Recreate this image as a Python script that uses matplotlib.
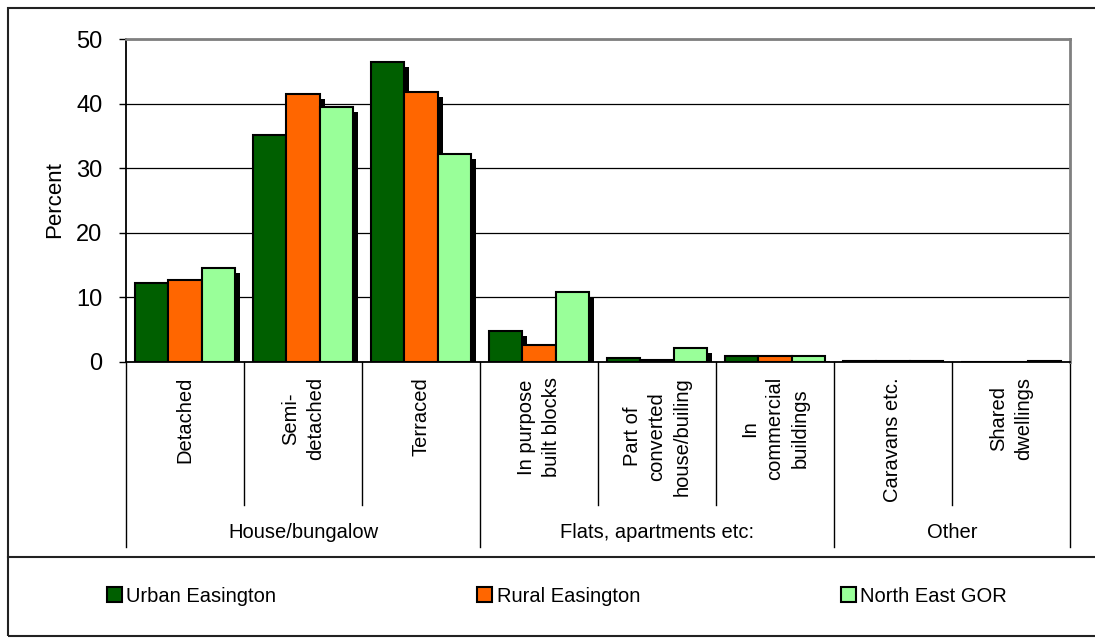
import matplotlib
matplotlib.use("Agg")
import matplotlib.pyplot as plt
import matplotlib.transforms as mtransforms
from matplotlib.lines import Line2D
from matplotlib.patches import Rectangle
import numpy as np

plt.rcParams["font.family"] = ["Liberation Sans", "DejaVu Sans"]

# -----------------------------------------------------------------------
# Data (percent of households by dwelling type)
# -----------------------------------------------------------------------
categories = ["Detached", "Semi-\ndetached", "Terraced", "In purpose\nbuilt blocks",
              "Part of\nconverted\nhouse/builing", "In\ncommercial\nbuildings",
              "Caravans etc.", "Shared\ndwellings"]
groups = ["House/bungalow", "Flats, apartments etc:", "Other"]
group_sizes = [3, 3, 2]

series_names = ["Urban Easington", "Rural Easington", "North East GOR"]
urban = [12.2, 35.2, 46.4, 4.8, 0.6, 0.9, 0.1, 0.0]
rural = [12.7, 41.5, 41.8, 2.6, 0.3, 0.9, 0.15, 0.0]
north_east = [14.5, 39.4, 32.2, 10.9, 2.1, 0.9, 0.1, 0.1]

COLOURS = ["#005f00", "#ff6600", "#99ff99"]

W, H = 1095, 640


def fy(py):
    # pixel row -> figure fraction
    return 1 - py / H


fig = plt.figure(figsize=(W / 100, H / 100), dpi=100, facecolor="white")
ax = fig.add_axes([126 / W, fy(362), (1070 - 126) / W, (362 - 39) / H])

n = len(categories)
x = np.arange(n)
bw = 0.2825
offsets = [-bw, 0, bw]
shadow = ax.transData + mtransforms.ScaledTranslation(0.05, -0.05, fig.dpi_scale_trans)

handles = []
for vals, off, col, name in zip([urban, rural, north_east], offsets, COLOURS, series_names):
    ax.bar(x + 0.5 + off, vals, bw, color="black", transform=shadow, zorder=1)
    b = ax.bar(x + 0.5 + off, vals, bw, color=col, edgecolor="black",
               linewidth=1.5, zorder=3, label=name)
    handles.append(b)

ax.set_xlim(0, n)
ax.set_ylim(0, 50)
ax.set_yticks(range(0, 51, 10))
ax.set_xticks([])
ax.yaxis.grid(True, color="black", linewidth=0.9)
ax.set_axisbelow(True)
ax.tick_params(axis="y", direction="out", length=5, width=1, pad=12, labelsize=17)
for s in ("top", "right"):
    ax.spines[s].set_color("#808080")
    ax.spines[s].set_linewidth(2)
for s in ("left", "bottom"):
    ax.spines[s].set_color("black")
    ax.spines[s].set_linewidth(1.3)

fig.text(55 / W, fy(200), "Percent", rotation=90, ha="center", va="center", fontsize=16)

# -----------------------------------------------------------------------
# Two-level category axis
# -----------------------------------------------------------------------
blend = mtransforms.blended_transform_factory(ax.transData, fig.transFigure)

for i, lab in enumerate(categories):
    ax.text(i + 0.5, fy(377), lab, transform=blend, rotation=90, ha="center", va="top",
            multialignment="center", fontsize=14.5, linespacing=1.4, clip_on=False)

bounds = np.cumsum([0] + group_sizes)
for i in range(1, n):
    if i in bounds:
        continue
    ax.add_line(Line2D([i, i], [fy(362), fy(505)], transform=blend, color="black",
                       linewidth=1, clip_on=False))
for b in bounds:
    ax.add_line(Line2D([b, b], [fy(362), fy(547)], transform=blend, color="black",
                       linewidth=1, clip_on=False))
for g, lo, hi in zip(groups, bounds[:-1], bounds[1:]):
    ax.text((lo + hi) / 2, fy(533), g, transform=blend, ha="center", va="center",
            fontsize=14.5, clip_on=False)

# -----------------------------------------------------------------------
# Legend and outer frame
# -----------------------------------------------------------------------
fig.legend(handles=handles, labels=series_names, loc="center",
           bbox_to_anchor=(557 / W, fy(596)), ncol=3, frameon=False, fontsize=14.5,
           handlelength=0.75, handleheight=0.75, handletextpad=0.2, columnspacing=10.0)

fig.add_artist(Rectangle((8 / W, fy(636)), (W + 10) / W, (636 - 8) / H,
                         transform=fig.transFigure, fill=False, edgecolor="#222222",
                         linewidth=1.5))
fig.add_artist(Line2D([8 / W, 1], [fy(557), fy(557)], transform=fig.transFigure,
                      color="#222222", linewidth=1.5))

fig.savefig("out.png", dpi=100, facecolor=fig.get_facecolor())
